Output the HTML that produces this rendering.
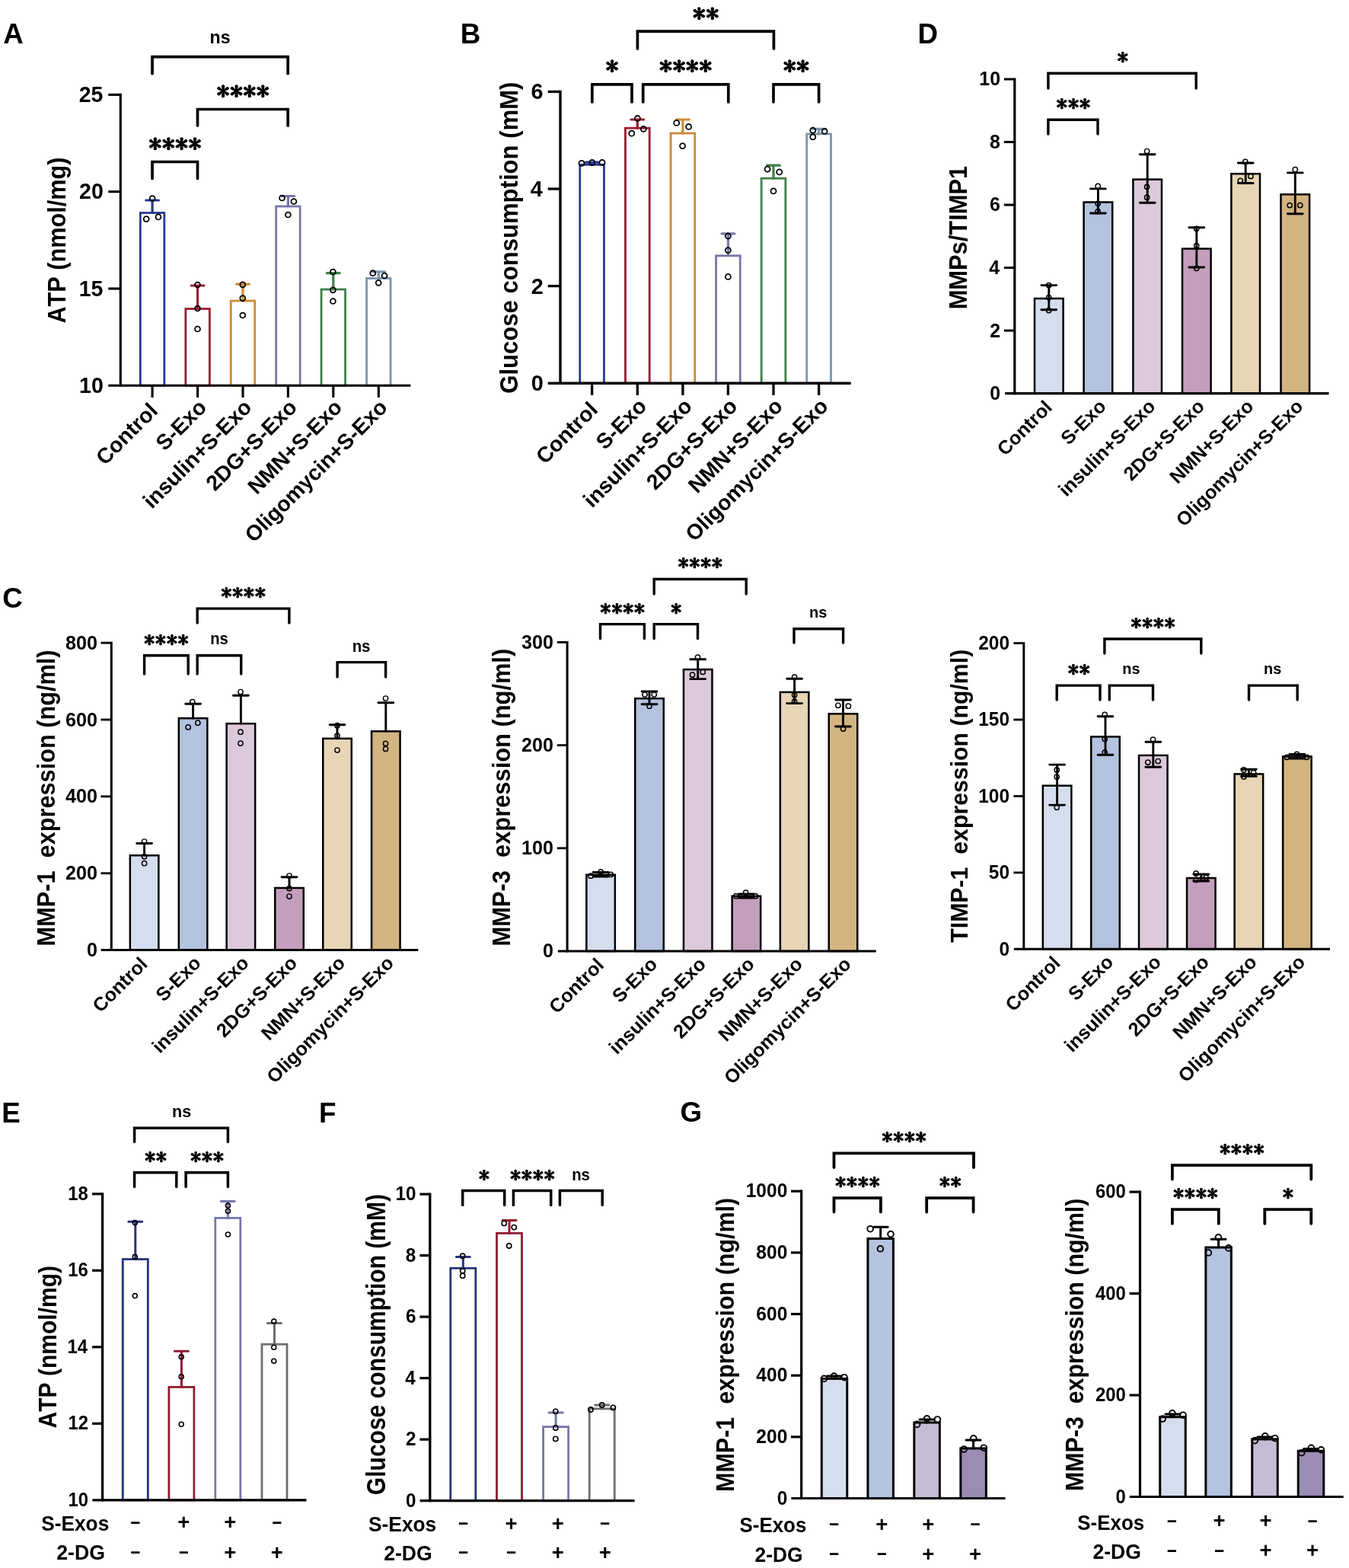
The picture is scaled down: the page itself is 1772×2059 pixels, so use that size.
<!DOCTYPE html>
<html><head><meta charset="utf-8"><title>Figure</title>
<style>
html,body{margin:0;padding:0;background:#fff;}
svg{display:block;}
svg text{font-family:"Liberation Sans",Arial,sans-serif;font-weight:bold;fill:#000;font-kerning:none;}
svg text.ast{font-family:"IPAGothic","Liberation Sans",sans-serif;font-weight:normal;stroke:#000;stroke-linejoin:round;}
.br{fill:none;stroke:#000;stroke-linecap:round;stroke-linejoin:miter;}
</style></head>
<body>
<svg xmlns="http://www.w3.org/2000/svg" width="1772" height="2059" viewBox="0 0 1772 2059">
<rect width="1772" height="2059" fill="#fff"/>
<g>
<rect x="184.35" y="279.5" width="31.5" height="226.8" fill="#fff" stroke="#283a8f" stroke-width="2.8"/>
<rect x="243.85" y="405.5" width="31.5" height="100.8" fill="#fff" stroke="#9b1b32" stroke-width="2.8"/>
<rect x="303.25" y="395" width="31.5" height="111.3" fill="#fff" stroke="#cc8a33" stroke-width="2.8"/>
<rect x="362.65" y="271" width="31.5" height="235.3" fill="#fff" stroke="#7676aa" stroke-width="2.8"/>
<rect x="422.05" y="380" width="31.5" height="126.3" fill="#fff" stroke="#3f7f48" stroke-width="2.8"/>
<rect x="481.55" y="365.5" width="31.5" height="140.8" fill="#fff" stroke="#7a95ad" stroke-width="2.8"/>
<path d="M200.1 279.5V263M191.7 263H208.5" fill="none" stroke="#283a8f" stroke-width="3.2" stroke-linecap="round"/>
<path d="M259.6 405.5V375M251.2 375H268" fill="none" stroke="#9b1b32" stroke-width="3.2" stroke-linecap="round"/>
<path d="M319 395V373.1M310.6 373.1H327.4" fill="none" stroke="#cc8a33" stroke-width="3.2" stroke-linecap="round"/>
<path d="M378.4 271V257.5M370 257.5H386.8" fill="none" stroke="#7676aa" stroke-width="3.2" stroke-linecap="round"/>
<path d="M437.8 380V358.7M429.4 358.7H446.2" fill="none" stroke="#3f7f48" stroke-width="3.2" stroke-linecap="round"/>
<path d="M497.3 365.5V356.9M488.9 356.9H505.7" fill="none" stroke="#7a95ad" stroke-width="3.2" stroke-linecap="round"/>
<circle cx="200.1" cy="260.5" r="3.45" fill="none" stroke="#000" stroke-width="1.8"/>
<circle cx="192.2" cy="287.6" r="3.45" fill="none" stroke="#000" stroke-width="1.8"/>
<circle cx="208" cy="284.9" r="3.45" fill="none" stroke="#000" stroke-width="1.8"/>
<circle cx="259.5" cy="374" r="3.45" fill="none" stroke="#000" stroke-width="1.8"/>
<circle cx="259.5" cy="405" r="3.45" fill="none" stroke="#000" stroke-width="1.8"/>
<circle cx="259.5" cy="432" r="3.45" fill="none" stroke="#000" stroke-width="1.8"/>
<circle cx="318.8" cy="373.8" r="3.45" fill="none" stroke="#000" stroke-width="1.8"/>
<circle cx="318.8" cy="391.6" r="3.45" fill="none" stroke="#000" stroke-width="1.8"/>
<circle cx="318.8" cy="414" r="3.45" fill="none" stroke="#000" stroke-width="1.8"/>
<circle cx="370.5" cy="260" r="3.45" fill="none" stroke="#000" stroke-width="1.8"/>
<circle cx="385.9" cy="264.5" r="3.45" fill="none" stroke="#000" stroke-width="1.8"/>
<circle cx="378.4" cy="282" r="3.45" fill="none" stroke="#000" stroke-width="1.8"/>
<circle cx="437.4" cy="357" r="3.45" fill="none" stroke="#000" stroke-width="1.8"/>
<circle cx="437.4" cy="380.8" r="3.45" fill="none" stroke="#000" stroke-width="1.8"/>
<circle cx="437.4" cy="395.5" r="3.45" fill="none" stroke="#000" stroke-width="1.8"/>
<circle cx="489.7" cy="358.7" r="3.45" fill="none" stroke="#000" stroke-width="1.8"/>
<circle cx="505" cy="362" r="3.45" fill="none" stroke="#000" stroke-width="1.8"/>
<circle cx="497.2" cy="371.3" r="3.45" fill="none" stroke="#000" stroke-width="1.8"/>
<line x1="158.3" y1="122.85" x2="158.3" y2="507.85" stroke="#000" stroke-width="3.1"/>
<line x1="142.3" y1="506.3" x2="539.4" y2="506.3" stroke="#000" stroke-width="3.1"/>
<line x1="142.3" y1="379" x2="158.3" y2="379" stroke="#000" stroke-width="3.1"/>
<line x1="142.3" y1="251.7" x2="158.3" y2="251.7" stroke="#000" stroke-width="3.1"/>
<line x1="142.3" y1="124.4" x2="158.3" y2="124.4" stroke="#000" stroke-width="3.1"/>
<line x1="200.1" y1="506.3" x2="200.1" y2="522" stroke="#000" stroke-width="3.1"/>
<line x1="259.6" y1="506.3" x2="259.6" y2="522" stroke="#000" stroke-width="3.1"/>
<line x1="319" y1="506.3" x2="319" y2="522" stroke="#000" stroke-width="3.1"/>
<line x1="378.4" y1="506.3" x2="378.4" y2="522" stroke="#000" stroke-width="3.1"/>
<line x1="437.8" y1="506.3" x2="437.8" y2="522" stroke="#000" stroke-width="3.1"/>
<line x1="497.3" y1="506.3" x2="497.3" y2="522" stroke="#000" stroke-width="3.1"/>
<text font-size="29.9" transform="translate(104.11 515.99) scale(0.955 1)">10</text>
<text font-size="29.9" transform="translate(103.73 388.54) scale(0.955 1)">15</text>
<text font-size="29.9" transform="translate(104.11 261.39) scale(0.955 1)">20</text>
<text font-size="29.9" transform="translate(103.73 134.09) scale(0.955 1)">25</text>
<path d="M200.05 96.7V74.7H378.2V96.7" class="br" stroke-width="3.7"/>
<path d="M259.5 165V143.5H378.2V165" class="br" stroke-width="3.7"/>
<path d="M200.05 234.5V212.5H259.5V234.5" class="br" stroke-width="3.7"/>
<text font-size="24.41" transform="translate(275.57 56.66) scale(0.950 1)">ns</text>
<text class="ast" font-size="31.45" transform="translate(284.54 130.95) scale(1.091 1)" stroke-width="1.27" letter-spacing="0.23">****</text>
<text class="ast" font-size="31.45" transform="translate(195.24 199.95) scale(1.091 1)" stroke-width="1.27" letter-spacing="0.23">****</text>
<text font-size="33.28" transform="translate(85.6 424.56) rotate(-90) scale(0.922 1)">ATP (nmol/mg)</text>
<text font-size="28.3" text-anchor="end" transform="translate(208.8 541.1) rotate(-45)">Control</text>
<text font-size="28.3" text-anchor="end" transform="translate(272.9 536.5) rotate(-45)">S-Exo</text>
<text font-size="28.3" text-anchor="end" transform="translate(332.3 536.5) rotate(-45)">insulin+S-Exo</text>
<text font-size="28.3" text-anchor="end" transform="translate(391.7 536.5) rotate(-45)">2DG+S-Exo</text>
<text font-size="28.3" text-anchor="end" transform="translate(451.1 536.5) rotate(-45)">NMN+S-Exo</text>
<text font-size="28.3" text-anchor="end" transform="translate(510.6 536.5) rotate(-45)">Oligomycin+S-Exo</text>
</g>
<g>
<rect x="761.75" y="216.3" width="31.7" height="286.9" fill="#fff" stroke="#283a8f" stroke-width="2.8"/>
<rect x="821.45" y="168.2" width="31.7" height="335" fill="#fff" stroke="#9b1b32" stroke-width="2.8"/>
<rect x="881.05" y="175" width="31.7" height="328.2" fill="#fff" stroke="#cc8a33" stroke-width="2.8"/>
<rect x="940.55" y="335.8" width="31.7" height="167.4" fill="#fff" stroke="#7676aa" stroke-width="2.8"/>
<rect x="1000.15" y="234.2" width="31.7" height="269" fill="#fff" stroke="#3f7f48" stroke-width="2.8"/>
<rect x="1059.75" y="175.9" width="31.7" height="327.3" fill="#fff" stroke="#7a95ad" stroke-width="2.8"/>
<path d="M777.6 216.3V213.2M769.2 213.2H786" fill="none" stroke="#283a8f" stroke-width="3.2" stroke-linecap="round"/>
<path d="M837.3 168.2V157M828.9 157H845.7" fill="none" stroke="#9b1b32" stroke-width="3.2" stroke-linecap="round"/>
<path d="M896.9 175V157M888.5 157H905.3" fill="none" stroke="#cc8a33" stroke-width="3.2" stroke-linecap="round"/>
<path d="M956.4 335.8V306.9M948 306.9H964.8" fill="none" stroke="#7676aa" stroke-width="3.2" stroke-linecap="round"/>
<path d="M1016 234.2V217.1M1007.6 217.1H1024.4" fill="none" stroke="#3f7f48" stroke-width="3.2" stroke-linecap="round"/>
<path d="M1075.6 175.9V169.3M1067.2 169.3H1084" fill="none" stroke="#7a95ad" stroke-width="3.2" stroke-linecap="round"/>
<circle cx="764" cy="214.3" r="3.5" fill="none" stroke="#000" stroke-width="1.8"/>
<circle cx="777.8" cy="213.4" r="3.5" fill="none" stroke="#000" stroke-width="1.8"/>
<circle cx="791" cy="213.4" r="3.5" fill="none" stroke="#000" stroke-width="1.8"/>
<circle cx="837.4" cy="155.5" r="3.5" fill="none" stroke="#000" stroke-width="1.8"/>
<circle cx="829.7" cy="175.2" r="3.5" fill="none" stroke="#000" stroke-width="1.8"/>
<circle cx="845.3" cy="169.3" r="3.5" fill="none" stroke="#000" stroke-width="1.8"/>
<circle cx="888.7" cy="161.4" r="3.5" fill="none" stroke="#000" stroke-width="1.8"/>
<circle cx="904.6" cy="166.4" r="3.5" fill="none" stroke="#000" stroke-width="1.8"/>
<circle cx="896.6" cy="191.6" r="3.5" fill="none" stroke="#000" stroke-width="1.8"/>
<circle cx="956.4" cy="310" r="3.5" fill="none" stroke="#000" stroke-width="1.8"/>
<circle cx="956.4" cy="328.7" r="3.5" fill="none" stroke="#000" stroke-width="1.8"/>
<circle cx="956.4" cy="363.4" r="3.5" fill="none" stroke="#000" stroke-width="1.8"/>
<circle cx="1008.1" cy="222.1" r="3.5" fill="none" stroke="#000" stroke-width="1.8"/>
<circle cx="1023.7" cy="225.9" r="3.5" fill="none" stroke="#000" stroke-width="1.8"/>
<circle cx="1016" cy="250.9" r="3.5" fill="none" stroke="#000" stroke-width="1.8"/>
<circle cx="1067.8" cy="171.1" r="3.5" fill="none" stroke="#000" stroke-width="1.8"/>
<circle cx="1083.1" cy="172.4" r="3.5" fill="none" stroke="#000" stroke-width="1.8"/>
<circle cx="1067.8" cy="179.8" r="3.5" fill="none" stroke="#000" stroke-width="1.8"/>
<line x1="736" y1="118.75" x2="736" y2="504.9" stroke="#000" stroke-width="3.4"/>
<line x1="719.7" y1="503.2" x2="1117.7" y2="503.2" stroke="#000" stroke-width="3.4"/>
<line x1="719.7" y1="375.6" x2="736" y2="375.6" stroke="#000" stroke-width="3.3"/>
<line x1="719.7" y1="248" x2="736" y2="248" stroke="#000" stroke-width="3.3"/>
<line x1="719.7" y1="120.4" x2="736" y2="120.4" stroke="#000" stroke-width="3.3"/>
<line x1="777.6" y1="503.2" x2="777.6" y2="519" stroke="#000" stroke-width="3.3"/>
<line x1="837.3" y1="503.2" x2="837.3" y2="519" stroke="#000" stroke-width="3.3"/>
<line x1="896.9" y1="503.2" x2="896.9" y2="519" stroke="#000" stroke-width="3.3"/>
<line x1="956.4" y1="503.2" x2="956.4" y2="519" stroke="#000" stroke-width="3.3"/>
<line x1="1016" y1="503.2" x2="1016" y2="519" stroke="#000" stroke-width="3.3"/>
<line x1="1075.6" y1="503.2" x2="1075.6" y2="519" stroke="#000" stroke-width="3.3"/>
<text font-size="30.2" transform="translate(697.74 513) scale(0.955 1)">0</text>
<text font-size="30.2" transform="translate(697.71 385.54) scale(0.955 1)">2</text>
<text font-size="30.2" transform="translate(696.71 257.79) scale(0.955 1)">4</text>
<text font-size="30.2" transform="translate(697.6 130.2) scale(0.955 1)">6</text>
<path d="M837.4 64V41.1H1016.4V64" class="br" stroke-width="3.7"/>
<path d="M777.8 134V110.9H830V134" class="br" stroke-width="3.7"/>
<path d="M844.7 134V110.9H956.8V134" class="br" stroke-width="3.7"/>
<path d="M1016 134V110.9H1075.6V134" class="br" stroke-width="3.7"/>
<text class="ast" font-size="31.45" transform="translate(909.74 28.55) scale(1.091 1)" stroke-width="1.27" letter-spacing="0.23">**</text>
<text class="ast" font-size="31.45" transform="translate(795.44 98.35) scale(1.091 1)" stroke-width="1.27">*</text>
<text class="ast" font-size="31.45" transform="translate(866.04 98.35) scale(1.091 1)" stroke-width="1.27" letter-spacing="0.23">****</text>
<text class="ast" font-size="31.45" transform="translate(1028.64 98.35) scale(1.091 1)" stroke-width="1.27" letter-spacing="0.23">**</text>
<text font-size="33.43" transform="translate(679.7 516.77) rotate(-90) scale(0.930 1)">Glucose consumption (mM)</text>
<text font-size="28.3" text-anchor="end" transform="translate(786.8 539.7) rotate(-45)">Control</text>
<text font-size="28.3" text-anchor="end" transform="translate(851.1 535.1) rotate(-45)">S-Exo</text>
<text font-size="28.3" text-anchor="end" transform="translate(910.7 535.1) rotate(-45)">insulin+S-Exo</text>
<text font-size="28.3" text-anchor="end" transform="translate(970.2 535.1) rotate(-45)">2DG+S-Exo</text>
<text font-size="28.3" text-anchor="end" transform="translate(1029.8 535.1) rotate(-45)">NMN+S-Exo</text>
<text font-size="28.3" text-anchor="end" transform="translate(1089.4 535.1) rotate(-45)">Oligomycin+S-Exo</text>
</g>
<g>
<rect x="1359" y="392" width="37.6" height="124.6" fill="#d4deee" stroke="#000" stroke-width="2.5"/>
<rect x="1423.6" y="265.5" width="37.6" height="251.1" fill="#b3c2de" stroke="#000" stroke-width="2.5"/>
<rect x="1488.4" y="235.6" width="37.6" height="281" fill="#dcc9db" stroke="#000" stroke-width="2.5"/>
<rect x="1553" y="326.6" width="37.6" height="190" fill="#c49ebd" stroke="#000" stroke-width="2.5"/>
<rect x="1617.4" y="228.2" width="37.6" height="288.4" fill="#e7d5b5" stroke="#000" stroke-width="2.5"/>
<rect x="1682.5" y="255.3" width="37.6" height="261.3" fill="#d3b481" stroke="#000" stroke-width="2.5"/>
<path d="M1377.8 392V374.6M1367.9 374.6H1387.7" fill="none" stroke="#000" stroke-width="2.9" stroke-linecap="round"/>
<path d="M1377.8 392V406.7M1367.9 406.7H1387.7" fill="none" stroke="#000" stroke-width="2.9" stroke-linecap="round"/>
<path d="M1442.4 265.5V247.9M1432.5 247.9H1452.3" fill="none" stroke="#000" stroke-width="2.9" stroke-linecap="round"/>
<path d="M1442.4 265.5V280M1432.5 280H1452.3" fill="none" stroke="#000" stroke-width="2.9" stroke-linecap="round"/>
<path d="M1507.2 235.6V202.7M1497.3 202.7H1517.1" fill="none" stroke="#000" stroke-width="2.9" stroke-linecap="round"/>
<path d="M1507.2 235.6V266.3M1497.3 266.3H1517.1" fill="none" stroke="#000" stroke-width="2.9" stroke-linecap="round"/>
<path d="M1571.8 326.6V298.7M1561.9 298.7H1581.7" fill="none" stroke="#000" stroke-width="2.9" stroke-linecap="round"/>
<path d="M1571.8 326.6V351M1561.9 351H1581.7" fill="none" stroke="#000" stroke-width="2.9" stroke-linecap="round"/>
<path d="M1636.2 228.2V214M1626.3 214H1646.1" fill="none" stroke="#000" stroke-width="2.9" stroke-linecap="round"/>
<path d="M1636.2 228.2V240.5M1626.3 240.5H1646.1" fill="none" stroke="#000" stroke-width="2.9" stroke-linecap="round"/>
<path d="M1701.3 255.3V226.9M1691.4 226.9H1711.2" fill="none" stroke="#000" stroke-width="2.9" stroke-linecap="round"/>
<path d="M1701.3 255.3V280.7M1691.4 280.7H1711.2" fill="none" stroke="#000" stroke-width="2.9" stroke-linecap="round"/>
<circle cx="1377.7" cy="374.6" r="3.15" fill="none" stroke="#000" stroke-width="1.45"/>
<circle cx="1377.7" cy="390.5" r="3.15" fill="none" stroke="#000" stroke-width="1.45"/>
<circle cx="1377.7" cy="407.6" r="3.15" fill="none" stroke="#000" stroke-width="1.45"/>
<circle cx="1442.2" cy="244.4" r="3.15" fill="none" stroke="#000" stroke-width="1.45"/>
<circle cx="1442.2" cy="267.3" r="3.15" fill="none" stroke="#000" stroke-width="1.45"/>
<circle cx="1442.2" cy="277.6" r="3.15" fill="none" stroke="#000" stroke-width="1.45"/>
<circle cx="1506.6" cy="198.5" r="3.15" fill="none" stroke="#000" stroke-width="1.45"/>
<circle cx="1506.6" cy="245.3" r="3.15" fill="none" stroke="#000" stroke-width="1.45"/>
<circle cx="1506.6" cy="259.2" r="3.15" fill="none" stroke="#000" stroke-width="1.45"/>
<circle cx="1571.7" cy="300.3" r="3.15" fill="none" stroke="#000" stroke-width="1.45"/>
<circle cx="1571.7" cy="322.6" r="3.15" fill="none" stroke="#000" stroke-width="1.45"/>
<circle cx="1571.7" cy="352.3" r="3.15" fill="none" stroke="#000" stroke-width="1.45"/>
<circle cx="1635.8" cy="212.4" r="3.15" fill="none" stroke="#000" stroke-width="1.45"/>
<circle cx="1629.3" cy="237.3" r="3.15" fill="none" stroke="#000" stroke-width="1.45"/>
<circle cx="1642.9" cy="231.4" r="3.15" fill="none" stroke="#000" stroke-width="1.45"/>
<circle cx="1701.3" cy="222.7" r="3.15" fill="none" stroke="#000" stroke-width="1.45"/>
<circle cx="1694.2" cy="269.6" r="3.15" fill="none" stroke="#000" stroke-width="1.45"/>
<circle cx="1707.8" cy="269.6" r="3.15" fill="none" stroke="#000" stroke-width="1.45"/>
<line x1="1332.8" y1="102.5" x2="1332.8" y2="518.2" stroke="#000" stroke-width="3.2"/>
<line x1="1320.2" y1="516.6" x2="1745.5" y2="516.6" stroke="#000" stroke-width="3.2"/>
<line x1="1318.9" y1="434.08" x2="1332.8" y2="434.08" stroke="#000" stroke-width="3"/>
<line x1="1318.9" y1="351.56" x2="1332.8" y2="351.56" stroke="#000" stroke-width="3"/>
<line x1="1318.9" y1="269.04" x2="1332.8" y2="269.04" stroke="#000" stroke-width="3"/>
<line x1="1318.9" y1="186.52" x2="1332.8" y2="186.52" stroke="#000" stroke-width="3"/>
<line x1="1318.9" y1="104" x2="1332.8" y2="104" stroke="#000" stroke-width="3"/>
<text font-size="26.1" transform="translate(1300.16 524.98) scale(0.955 1)">0</text>
<text font-size="26.1" transform="translate(1300.14 442.59) scale(0.955 1)">2</text>
<text font-size="26.1" transform="translate(1299.27 359.94) scale(0.955 1)">4</text>
<text font-size="26.1" transform="translate(1300.04 277.42) scale(0.955 1)">6</text>
<text font-size="26.1" transform="translate(1299.9 194.9) scale(0.955 1)">8</text>
<text font-size="26.1" transform="translate(1286.3 112.38) scale(0.955 1)">10</text>
<path d="M1376.9 116V96.2H1571.2V116" class="br" stroke-width="3.4"/>
<path d="M1376.9 176V157.2H1442V176" class="br" stroke-width="3.4"/>
<text class="ast" font-size="26.82" transform="translate(1467.48 84.64) scale(1.094 1)" stroke-width="1.09">*</text>
<text class="ast" font-size="26.82" transform="translate(1387.58 145.64) scale(1.094 1)" stroke-width="1.09" letter-spacing="0.39">***</text>
<text font-size="33.58" transform="translate(1269.6 406.36) rotate(-90) scale(0.919 1)">MMPs/TIMP1</text>
<text font-size="25.2" text-anchor="end" transform="translate(1383.51 536.51) rotate(-45)">Control</text>
<text font-size="25.2" text-anchor="end" transform="translate(1454.31 535.11) rotate(-45)">S-Exo</text>
<text font-size="25.2" text-anchor="end" transform="translate(1519.11 535.11) rotate(-45)">insulin+S-Exo</text>
<text font-size="25.2" text-anchor="end" transform="translate(1583.71 535.11) rotate(-45)">2DG+S-Exo</text>
<text font-size="25.2" text-anchor="end" transform="translate(1648.11 535.11) rotate(-45)">NMN+S-Exo</text>
<text font-size="25.2" text-anchor="end" transform="translate(1713.21 535.11) rotate(-45)">Oligomycin+S-Exo</text>
</g>
<g>
<rect x="170.85" y="1123.3" width="37.5" height="124.3" fill="#d4deee" stroke="#000" stroke-width="2.5"/>
<rect x="234.85" y="943.2" width="37.5" height="304.4" fill="#b3c2de" stroke="#000" stroke-width="2.5"/>
<rect x="297.65" y="950.2" width="37.5" height="297.4" fill="#dcc9db" stroke="#000" stroke-width="2.5"/>
<rect x="361.25" y="1166" width="37.5" height="81.6" fill="#c49ebd" stroke="#000" stroke-width="2.5"/>
<rect x="424.25" y="969.8" width="37.5" height="277.8" fill="#e7d5b5" stroke="#000" stroke-width="2.5"/>
<rect x="488.05" y="960.3" width="37.5" height="287.3" fill="#d3b481" stroke="#000" stroke-width="2.5"/>
<path d="M189.6 1123.3V1107.5M179.7 1107.5H199.5" fill="none" stroke="#000" stroke-width="2.9" stroke-linecap="round"/>
<path d="M253.6 943.2V924.3M243.7 924.3H263.5" fill="none" stroke="#000" stroke-width="2.9" stroke-linecap="round"/>
<path d="M316.4 950.2V913.2M306.5 913.2H326.3" fill="none" stroke="#000" stroke-width="2.9" stroke-linecap="round"/>
<path d="M380 1166V1151.7M370.1 1151.7H389.9" fill="none" stroke="#000" stroke-width="2.9" stroke-linecap="round"/>
<path d="M443 969.8V951.8M433.1 951.8H452.9" fill="none" stroke="#000" stroke-width="2.9" stroke-linecap="round"/>
<path d="M506.8 960.3V922.7M496.9 922.7H516.7" fill="none" stroke="#000" stroke-width="2.9" stroke-linecap="round"/>
<circle cx="189.6" cy="1105" r="3.15" fill="none" stroke="#000" stroke-width="1.45"/>
<circle cx="189.6" cy="1124.8" r="3.15" fill="none" stroke="#000" stroke-width="1.45"/>
<circle cx="189.6" cy="1133.7" r="3.15" fill="none" stroke="#000" stroke-width="1.45"/>
<circle cx="252.8" cy="921.7" r="3.15" fill="none" stroke="#000" stroke-width="1.45"/>
<circle cx="247.2" cy="954.9" r="3.15" fill="none" stroke="#000" stroke-width="1.45"/>
<circle cx="259.8" cy="949.2" r="3.15" fill="none" stroke="#000" stroke-width="1.45"/>
<circle cx="316" cy="908.5" r="3.15" fill="none" stroke="#000" stroke-width="1.45"/>
<circle cx="316" cy="961.2" r="3.15" fill="none" stroke="#000" stroke-width="1.45"/>
<circle cx="316" cy="976.1" r="3.15" fill="none" stroke="#000" stroke-width="1.45"/>
<circle cx="380" cy="1150" r="3.15" fill="none" stroke="#000" stroke-width="1.45"/>
<circle cx="380" cy="1166.6" r="3.15" fill="none" stroke="#000" stroke-width="1.45"/>
<circle cx="380" cy="1177" r="3.15" fill="none" stroke="#000" stroke-width="1.45"/>
<circle cx="443" cy="952.7" r="3.15" fill="none" stroke="#000" stroke-width="1.45"/>
<circle cx="443" cy="966" r="3.15" fill="none" stroke="#000" stroke-width="1.45"/>
<circle cx="443" cy="985" r="3.15" fill="none" stroke="#000" stroke-width="1.45"/>
<circle cx="506.6" cy="917" r="3.15" fill="none" stroke="#000" stroke-width="1.45"/>
<circle cx="506.6" cy="976.4" r="3.15" fill="none" stroke="#000" stroke-width="1.45"/>
<circle cx="506.6" cy="983.4" r="3.15" fill="none" stroke="#000" stroke-width="1.45"/>
<line x1="146.3" y1="842.76" x2="146.3" y2="1249.1" stroke="#000" stroke-width="3"/>
<line x1="132.7" y1="1247.6" x2="549.3" y2="1247.6" stroke="#000" stroke-width="3"/>
<line x1="132.5" y1="1146.74" x2="146.3" y2="1146.74" stroke="#000" stroke-width="2.8"/>
<line x1="132.5" y1="1045.88" x2="146.3" y2="1045.88" stroke="#000" stroke-width="2.8"/>
<line x1="132.5" y1="945.02" x2="146.3" y2="945.02" stroke="#000" stroke-width="2.8"/>
<line x1="132.5" y1="844.16" x2="146.3" y2="844.16" stroke="#000" stroke-width="2.8"/>
<text font-size="26.4" transform="translate(114.01 1256.09) scale(0.955 1)">0</text>
<text font-size="26.4" transform="translate(85.97 1155.23) scale(0.955 1)">200</text>
<text font-size="26.4" transform="translate(85.97 1054.37) scale(0.955 1)">400</text>
<text font-size="26.4" transform="translate(85.97 953.51) scale(0.955 1)">600</text>
<text font-size="26.4" transform="translate(85.97 852.65) scale(0.955 1)">800</text>
<path d="M259.2 818V799.1H379.9V818" class="br" stroke-width="3.4"/>
<path d="M189.6 885V860.7H247.2V885" class="br" stroke-width="3.4"/>
<path d="M259.2 885V860.7H316.7V885" class="br" stroke-width="3.4"/>
<path d="M443.1 889V869.6H506.6V889" class="br" stroke-width="3.4"/>
<text class="ast" font-size="26.46" transform="translate(290.24 788) scale(1.085 1)" stroke-width="1.07" letter-spacing="0.42">****</text>
<text class="ast" font-size="26.46" transform="translate(189.04 849.6) scale(1.085 1)" stroke-width="1.07" letter-spacing="0.42">****</text>
<text font-size="21.31" transform="translate(276.17 845.69) scale(0.950 1)">ns</text>
<text font-size="21.49" transform="translate(462.65 856.09) scale(0.950 1)">ns</text>
<text font-size="32.41" transform="translate(71.9 1242.45) rotate(-90) scale(0.948 1)" xml:space="preserve">MMP-1  expression (ng/ml)</text>
<text font-size="25.2" text-anchor="end" transform="translate(195.31 1267.51) rotate(-45)">Control</text>
<text font-size="25.2" text-anchor="end" transform="translate(265.51 1266.11) rotate(-45)">S-Exo</text>
<text font-size="25.2" text-anchor="end" transform="translate(328.31 1266.11) rotate(-45)">insulin+S-Exo</text>
<text font-size="25.2" text-anchor="end" transform="translate(391.91 1266.11) rotate(-45)">2DG+S-Exo</text>
<text font-size="25.2" text-anchor="end" transform="translate(454.91 1266.11) rotate(-45)">NMN+S-Exo</text>
<text font-size="25.2" text-anchor="end" transform="translate(518.71 1266.11) rotate(-45)">Oligomycin+S-Exo</text>
</g>
<g>
<rect x="770.35" y="1148.7" width="37.5" height="100.3" fill="#d4deee" stroke="#000" stroke-width="2.5"/>
<rect x="834.25" y="917.2" width="37.5" height="331.8" fill="#b3c2de" stroke="#000" stroke-width="2.5"/>
<rect x="897.95" y="879.1" width="37.5" height="369.9" fill="#dcc9db" stroke="#000" stroke-width="2.5"/>
<rect x="961.65" y="1176.7" width="37.5" height="72.3" fill="#c49ebd" stroke="#000" stroke-width="2.5"/>
<rect x="1024.85" y="908.9" width="37.5" height="340.1" fill="#e7d5b5" stroke="#000" stroke-width="2.5"/>
<rect x="1088.75" y="937.3" width="37.5" height="311.7" fill="#d3b481" stroke="#000" stroke-width="2.5"/>
<path d="M789.1 1148.7V1145.4M779.2 1145.4H799" fill="none" stroke="#000" stroke-width="2.9" stroke-linecap="round"/>
<path d="M789.1 1148.7V1151M779.2 1151H799" fill="none" stroke="#000" stroke-width="2.9" stroke-linecap="round"/>
<path d="M853 917.2V908M843.1 908H862.9" fill="none" stroke="#000" stroke-width="2.9" stroke-linecap="round"/>
<path d="M853 917.2V924.8M843.1 924.8H862.9" fill="none" stroke="#000" stroke-width="2.9" stroke-linecap="round"/>
<path d="M916.7 879.1V865.7M906.8 865.7H926.6" fill="none" stroke="#000" stroke-width="2.9" stroke-linecap="round"/>
<path d="M916.7 879.1V891.6M906.8 891.6H926.6" fill="none" stroke="#000" stroke-width="2.9" stroke-linecap="round"/>
<path d="M980.4 1176.7V1174M970.5 1174H990.3" fill="none" stroke="#000" stroke-width="2.9" stroke-linecap="round"/>
<path d="M980.4 1176.7V1179M970.5 1179H990.3" fill="none" stroke="#000" stroke-width="2.9" stroke-linecap="round"/>
<path d="M1043.6 908.9V891.3M1033.7 891.3H1053.5" fill="none" stroke="#000" stroke-width="2.9" stroke-linecap="round"/>
<path d="M1043.6 908.9V923.6M1033.7 923.6H1053.5" fill="none" stroke="#000" stroke-width="2.9" stroke-linecap="round"/>
<path d="M1107.5 937.3V919M1097.6 919H1117.4" fill="none" stroke="#000" stroke-width="2.9" stroke-linecap="round"/>
<path d="M1107.5 937.3V954M1097.6 954H1117.4" fill="none" stroke="#000" stroke-width="2.9" stroke-linecap="round"/>
<circle cx="776" cy="1150.2" r="3.15" fill="none" stroke="#000" stroke-width="1.45"/>
<circle cx="789.1" cy="1144.8" r="3.15" fill="none" stroke="#000" stroke-width="1.45"/>
<circle cx="802.2" cy="1148.4" r="3.15" fill="none" stroke="#000" stroke-width="1.45"/>
<circle cx="847" cy="912" r="3.15" fill="none" stroke="#000" stroke-width="1.45"/>
<circle cx="859.2" cy="912" r="3.15" fill="none" stroke="#000" stroke-width="1.45"/>
<circle cx="853" cy="927.2" r="3.15" fill="none" stroke="#000" stroke-width="1.45"/>
<circle cx="916.5" cy="863.2" r="3.15" fill="none" stroke="#000" stroke-width="1.45"/>
<circle cx="909.5" cy="886.1" r="3.15" fill="none" stroke="#000" stroke-width="1.45"/>
<circle cx="923.2" cy="882.4" r="3.15" fill="none" stroke="#000" stroke-width="1.45"/>
<circle cx="966.8" cy="1176.7" r="3.15" fill="none" stroke="#000" stroke-width="1.45"/>
<circle cx="979.6" cy="1172.2" r="3.15" fill="none" stroke="#000" stroke-width="1.45"/>
<circle cx="992.4" cy="1176.7" r="3.15" fill="none" stroke="#000" stroke-width="1.45"/>
<circle cx="1043.6" cy="889.1" r="3.15" fill="none" stroke="#000" stroke-width="1.45"/>
<circle cx="1043.6" cy="912.6" r="3.15" fill="none" stroke="#000" stroke-width="1.45"/>
<circle cx="1043.6" cy="921.1" r="3.15" fill="none" stroke="#000" stroke-width="1.45"/>
<circle cx="1100.9" cy="926.3" r="3.15" fill="none" stroke="#000" stroke-width="1.45"/>
<circle cx="1114.3" cy="927.2" r="3.15" fill="none" stroke="#000" stroke-width="1.45"/>
<circle cx="1107.6" cy="957.1" r="3.15" fill="none" stroke="#000" stroke-width="1.45"/>
<line x1="745.1" y1="842" x2="745.1" y2="1250.5" stroke="#000" stroke-width="3"/>
<line x1="732.8" y1="1249" x2="1150.8" y2="1249" stroke="#000" stroke-width="3"/>
<line x1="731.8" y1="1113.8" x2="745.1" y2="1113.8" stroke="#000" stroke-width="2.8"/>
<line x1="731.8" y1="978.6" x2="745.1" y2="978.6" stroke="#000" stroke-width="2.8"/>
<line x1="731.8" y1="843.4" x2="745.1" y2="843.4" stroke="#000" stroke-width="2.8"/>
<text font-size="26.3" transform="translate(713.06 1257.45) scale(0.955 1)">0</text>
<text font-size="26.3" transform="translate(685.12 1122.25) scale(0.955 1)">100</text>
<text font-size="26.3" transform="translate(685.12 987.05) scale(0.955 1)">200</text>
<text font-size="26.3" transform="translate(685.12 851.83) scale(0.955 1)">300</text>
<path d="M859.2 780V760.5H980.2V780" class="br" stroke-width="3.4"/>
<path d="M788.5 838.5V819.6H846.4V838.5" class="br" stroke-width="3.4"/>
<path d="M859.2 838.5V819.6H916.5V838.5" class="br" stroke-width="3.4"/>
<path d="M1043 844V825.7H1107.6V844" class="br" stroke-width="3.4"/>
<text class="ast" font-size="26.46" transform="translate(890.44 749.4) scale(1.085 1)" stroke-width="1.07" letter-spacing="0.42">****</text>
<text class="ast" font-size="26.46" transform="translate(788.34 808.5) scale(1.085 1)" stroke-width="1.07" letter-spacing="0.42">****</text>
<text class="ast" font-size="26.46" transform="translate(881.04 808.5) scale(1.085 1)" stroke-width="1.07">*</text>
<text font-size="21.13" transform="translate(1062.98 811.19) scale(0.950 1)">ns</text>
<text font-size="32.41" transform="translate(669.9 1242.46) rotate(-90) scale(0.952 1)" xml:space="preserve">MMP-3  expression (ng/ml)</text>
<text font-size="25.2" text-anchor="end" transform="translate(794.81 1268.91) rotate(-45)">Control</text>
<text font-size="25.2" text-anchor="end" transform="translate(864.91 1267.51) rotate(-45)">S-Exo</text>
<text font-size="25.2" text-anchor="end" transform="translate(928.61 1267.51) rotate(-45)">insulin+S-Exo</text>
<text font-size="25.2" text-anchor="end" transform="translate(992.31 1267.51) rotate(-45)">2DG+S-Exo</text>
<text font-size="25.2" text-anchor="end" transform="translate(1055.51 1267.51) rotate(-45)">NMN+S-Exo</text>
<text font-size="25.2" text-anchor="end" transform="translate(1119.41 1267.51) rotate(-45)">Oligomycin+S-Exo</text>
</g>
<g>
<rect x="1369.85" y="1031.7" width="37.5" height="214.6" fill="#d4deee" stroke="#000" stroke-width="2.5"/>
<rect x="1433.25" y="967.4" width="37.5" height="278.9" fill="#b3c2de" stroke="#000" stroke-width="2.5"/>
<rect x="1496.05" y="991.9" width="37.5" height="254.4" fill="#dcc9db" stroke="#000" stroke-width="2.5"/>
<rect x="1559.05" y="1153" width="37.5" height="93.3" fill="#c49ebd" stroke="#000" stroke-width="2.5"/>
<rect x="1621.65" y="1016.4" width="37.5" height="229.9" fill="#e7d5b5" stroke="#000" stroke-width="2.5"/>
<rect x="1685.15" y="993.4" width="37.5" height="252.9" fill="#d3b481" stroke="#000" stroke-width="2.5"/>
<path d="M1388.6 1031.7V1004.1M1378.7 1004.1H1398.5" fill="none" stroke="#000" stroke-width="2.9" stroke-linecap="round"/>
<path d="M1388.6 1031.7V1057.1M1378.7 1057.1H1398.5" fill="none" stroke="#000" stroke-width="2.9" stroke-linecap="round"/>
<path d="M1452 967.4V940.8M1442.1 940.8H1461.9" fill="none" stroke="#000" stroke-width="2.9" stroke-linecap="round"/>
<path d="M1452 967.4V991.3M1442.1 991.3H1461.9" fill="none" stroke="#000" stroke-width="2.9" stroke-linecap="round"/>
<path d="M1514.8 991.9V974.2M1504.9 974.2H1524.7" fill="none" stroke="#000" stroke-width="2.9" stroke-linecap="round"/>
<path d="M1514.8 991.9V1007.2M1504.9 1007.2H1524.7" fill="none" stroke="#000" stroke-width="2.9" stroke-linecap="round"/>
<path d="M1577.8 1153V1148M1567.9 1148H1587.7" fill="none" stroke="#000" stroke-width="2.9" stroke-linecap="round"/>
<path d="M1577.8 1153V1157M1567.9 1157H1587.7" fill="none" stroke="#000" stroke-width="2.9" stroke-linecap="round"/>
<path d="M1640.4 1016.4V1010.2M1630.5 1010.2H1650.3" fill="none" stroke="#000" stroke-width="2.9" stroke-linecap="round"/>
<path d="M1640.4 1016.4V1019.4M1630.5 1019.4H1650.3" fill="none" stroke="#000" stroke-width="2.9" stroke-linecap="round"/>
<path d="M1703.9 993.4V990.5M1694 990.5H1713.8" fill="none" stroke="#000" stroke-width="2.9" stroke-linecap="round"/>
<path d="M1703.9 993.4V996M1694 996H1713.8" fill="none" stroke="#000" stroke-width="2.9" stroke-linecap="round"/>
<circle cx="1388.2" cy="1010.9" r="3.15" fill="none" stroke="#000" stroke-width="1.45"/>
<circle cx="1388.2" cy="1020" r="3.15" fill="none" stroke="#000" stroke-width="1.45"/>
<circle cx="1388.2" cy="1060.3" r="3.15" fill="none" stroke="#000" stroke-width="1.45"/>
<circle cx="1451.2" cy="938.4" r="3.15" fill="none" stroke="#000" stroke-width="1.45"/>
<circle cx="1451.2" cy="970.5" r="3.15" fill="none" stroke="#000" stroke-width="1.45"/>
<circle cx="1451.2" cy="988.2" r="3.15" fill="none" stroke="#000" stroke-width="1.45"/>
<circle cx="1514.5" cy="971.1" r="3.15" fill="none" stroke="#000" stroke-width="1.45"/>
<circle cx="1507.8" cy="1001.1" r="3.15" fill="none" stroke="#000" stroke-width="1.45"/>
<circle cx="1521.2" cy="999.5" r="3.15" fill="none" stroke="#000" stroke-width="1.45"/>
<circle cx="1571" cy="1146.9" r="3.15" fill="none" stroke="#000" stroke-width="1.45"/>
<circle cx="1571" cy="1155.4" r="3.15" fill="none" stroke="#000" stroke-width="1.45"/>
<circle cx="1584.2" cy="1152.4" r="3.15" fill="none" stroke="#000" stroke-width="1.45"/>
<circle cx="1633.8" cy="1010.9" r="3.15" fill="none" stroke="#000" stroke-width="1.45"/>
<circle cx="1633.8" cy="1020" r="3.15" fill="none" stroke="#000" stroke-width="1.45"/>
<circle cx="1646.6" cy="1014.8" r="3.15" fill="none" stroke="#000" stroke-width="1.45"/>
<circle cx="1690.4" cy="994.3" r="3.15" fill="none" stroke="#000" stroke-width="1.45"/>
<circle cx="1703.5" cy="990.4" r="3.15" fill="none" stroke="#000" stroke-width="1.45"/>
<circle cx="1716.4" cy="994.3" r="3.15" fill="none" stroke="#000" stroke-width="1.45"/>
<line x1="1344.8" y1="843.2" x2="1344.8" y2="1247.8" stroke="#000" stroke-width="3"/>
<line x1="1331.9" y1="1246.3" x2="1747" y2="1246.3" stroke="#000" stroke-width="3"/>
<line x1="1331.4" y1="1145.88" x2="1344.8" y2="1145.88" stroke="#000" stroke-width="2.8"/>
<line x1="1331.4" y1="1045.45" x2="1344.8" y2="1045.45" stroke="#000" stroke-width="2.8"/>
<line x1="1331.4" y1="945.02" x2="1344.8" y2="945.02" stroke="#000" stroke-width="2.8"/>
<line x1="1331.4" y1="844.6" x2="1344.8" y2="844.6" stroke="#000" stroke-width="2.8"/>
<text font-size="25.6" transform="translate(1312.41 1254.51) scale(0.955 1)">0</text>
<text font-size="25.6" transform="translate(1298.81 1154.09) scale(0.955 1)">50</text>
<text font-size="25.6" transform="translate(1285.21 1053.66) scale(0.955 1)">100</text>
<text font-size="25.6" transform="translate(1285.21 953.24) scale(0.955 1)">150</text>
<text font-size="25.6" transform="translate(1285.21 852.81) scale(0.955 1)">200</text>
<path d="M1450.9 858V839H1577.8V858" class="br" stroke-width="3.4"/>
<path d="M1388.2 919V900.1H1445V919" class="br" stroke-width="3.4"/>
<path d="M1457.3 919V900.1H1514.5V919" class="br" stroke-width="3.4"/>
<path d="M1640.5 919V900.1H1704.2V919" class="br" stroke-width="3.4"/>
<text class="ast" font-size="26.46" transform="translate(1485.14 827.9) scale(1.085 1)" stroke-width="1.07" letter-spacing="0.42">****</text>
<text class="ast" font-size="26.46" transform="translate(1402.64 889) scale(1.085 1)" stroke-width="1.07" letter-spacing="0.42">**</text>
<text font-size="20.95" transform="translate(1474.29 885.4) scale(0.950 1)">ns</text>
<text font-size="20.95" transform="translate(1659.99 885.4) scale(0.950 1)">ns</text>
<text font-size="31.83" transform="translate(1270.9 1237.74) rotate(-90) scale(0.951 1)" xml:space="preserve">TIMP-1  expression (ng/ml)</text>
<text font-size="25.2" text-anchor="end" transform="translate(1394.31 1266.21) rotate(-45)">Control</text>
<text font-size="25.2" text-anchor="end" transform="translate(1463.91 1264.81) rotate(-45)">S-Exo</text>
<text font-size="25.2" text-anchor="end" transform="translate(1526.71 1264.81) rotate(-45)">insulin+S-Exo</text>
<text font-size="25.2" text-anchor="end" transform="translate(1589.71 1264.81) rotate(-45)">2DG+S-Exo</text>
<text font-size="25.2" text-anchor="end" transform="translate(1652.31 1264.81) rotate(-45)">NMN+S-Exo</text>
<text font-size="25.2" text-anchor="end" transform="translate(1715.81 1264.81) rotate(-45)">Oligomycin+S-Exo</text>
</g>
<g>
<rect x="161.3" y="1653.5" width="33" height="316.3" fill="#fff" stroke="#27327f" stroke-width="2.8"/>
<rect x="221.9" y="1821.4" width="33" height="148.4" fill="#fff" stroke="#8f1b30" stroke-width="2.8"/>
<rect x="282.8" y="1599.4" width="33" height="370.4" fill="#fff" stroke="#7577a9" stroke-width="2.8"/>
<rect x="344" y="1765.2" width="33" height="204.6" fill="#fff" stroke="#6e6f6c" stroke-width="2.8"/>
<path d="M177.8 1653.5V1604.2M168.8 1604.2H186.8" fill="none" stroke="#27327f" stroke-width="3" stroke-linecap="round"/>
<path d="M238.4 1821.4V1774.2M229.4 1774.2H247.4" fill="none" stroke="#8f1b30" stroke-width="3" stroke-linecap="round"/>
<path d="M299.3 1599.4V1577.6M290.3 1577.6H308.3" fill="none" stroke="#7577a9" stroke-width="3" stroke-linecap="round"/>
<path d="M360.5 1765.2V1737.4M351.5 1737.4H369.5" fill="none" stroke="#6e6f6c" stroke-width="3" stroke-linecap="round"/>
<circle cx="177.3" cy="1605.6" r="3" fill="none" stroke="#000" stroke-width="1.6"/>
<circle cx="177.3" cy="1650.4" r="3" fill="none" stroke="#000" stroke-width="1.6"/>
<circle cx="177.3" cy="1701.6" r="3" fill="none" stroke="#000" stroke-width="1.6"/>
<circle cx="238.2" cy="1781.8" r="3" fill="none" stroke="#000" stroke-width="1.6"/>
<circle cx="238.2" cy="1807.8" r="3" fill="none" stroke="#000" stroke-width="1.6"/>
<circle cx="238.2" cy="1870.2" r="3" fill="none" stroke="#000" stroke-width="1.6"/>
<circle cx="299.4" cy="1583.1" r="3" fill="none" stroke="#000" stroke-width="1.6"/>
<circle cx="299.4" cy="1590.2" r="3" fill="none" stroke="#000" stroke-width="1.6"/>
<circle cx="299.4" cy="1621" r="3" fill="none" stroke="#000" stroke-width="1.6"/>
<circle cx="359.8" cy="1735.1" r="3" fill="none" stroke="#000" stroke-width="1.6"/>
<circle cx="359.8" cy="1769.2" r="3" fill="none" stroke="#000" stroke-width="1.6"/>
<circle cx="359.8" cy="1787.2" r="3" fill="none" stroke="#000" stroke-width="1.6"/>
<line x1="134.6" y1="1566.2" x2="134.6" y2="1971.45" stroke="#000" stroke-width="3.3"/>
<line x1="121.4" y1="1969.8" x2="402.5" y2="1969.8" stroke="#000" stroke-width="3.3"/>
<line x1="121.1" y1="1869.3" x2="134.6" y2="1869.3" stroke="#000" stroke-width="3.2"/>
<line x1="121.1" y1="1768.8" x2="134.6" y2="1768.8" stroke="#000" stroke-width="3.2"/>
<line x1="121.1" y1="1668.3" x2="134.6" y2="1668.3" stroke="#000" stroke-width="3.2"/>
<line x1="121.1" y1="1567.8" x2="134.6" y2="1567.8" stroke="#000" stroke-width="3.2"/>
<text font-size="25" transform="translate(89.42 1977.81) scale(0.955 1)">10</text>
<text font-size="25" transform="translate(89.4 1877.43) scale(0.955 1)">12</text>
<text font-size="25" transform="translate(88.57 1776.8) scale(0.955 1)">14</text>
<text font-size="25" transform="translate(89.31 1676.31) scale(0.955 1)">16</text>
<text font-size="25" transform="translate(89.18 1575.81) scale(0.955 1)">18</text>
<path d="M176.6 1499.5V1481.2H299.4V1499.5" class="br" stroke-width="3.5"/>
<path d="M176.6 1558.5V1539.7H231.8V1558.5" class="br" stroke-width="3.5"/>
<path d="M244.1 1558.5V1539.7H299.4V1558.5" class="br" stroke-width="3.5"/>
<text font-size="22.77" transform="translate(226.07 1466.68) scale(0.950 1)">ns</text>
<text class="ast" font-size="26.46" transform="translate(190.04 1528.6) scale(1.085 1)" stroke-width="1.07" letter-spacing="0.42">**</text>
<text class="ast" font-size="26.46" transform="translate(250.04 1528.6) scale(1.085 1)" stroke-width="1.07" letter-spacing="0.42">***</text>
<text font-size="33.14" transform="translate(73.6 1875.55) rotate(-90) scale(0.907 1)">ATP (nmol/mg)</text>
<text font-size="27.97" transform="translate(54.24 2009.53) scale(0.939 1)">S-Exos</text>
<text font-size="27.54" transform="translate(74.17 2047.93) scale(0.971 1)">2-DG</text>
<text font-size="27.5" transform="translate(171.57 2006.68) scale(0.830 1)">–</text>
<text font-size="27.5" transform="translate(233.36 2008.44)">+</text>
<text font-size="27.5" transform="translate(294.16 2008.44)">+</text>
<text font-size="27.5" transform="translate(357.47 2006.68) scale(0.830 1)">–</text>
<text font-size="27.5" transform="translate(171.57 2046.28) scale(0.830 1)">–</text>
<text font-size="27.5" transform="translate(235.07 2046.28) scale(0.830 1)">–</text>
<text font-size="27.5" transform="translate(294.16 2048.04)">+</text>
<text font-size="27.5" transform="translate(355.76 2048.04)">+</text>
</g>
<g>
<rect x="591.8" y="1665.3" width="33" height="305.4" fill="#fff" stroke="#27327f" stroke-width="2.8"/>
<rect x="652.5" y="1619.4" width="33" height="351.3" fill="#fff" stroke="#8f1b30" stroke-width="2.8"/>
<rect x="713.6" y="1873.6" width="33" height="97.1" fill="#fff" stroke="#7577a9" stroke-width="2.8"/>
<rect x="774.2" y="1849.9" width="33" height="120.8" fill="#fff" stroke="#6e6f6c" stroke-width="2.8"/>
<path d="M608.3 1665.3V1650.5M599.3 1650.5H617.3" fill="none" stroke="#27327f" stroke-width="3" stroke-linecap="round"/>
<path d="M669 1619.4V1602.5M660 1602.5H678" fill="none" stroke="#8f1b30" stroke-width="3" stroke-linecap="round"/>
<path d="M730.1 1873.6V1855.1M721.1 1855.1H739.1" fill="none" stroke="#7577a9" stroke-width="3" stroke-linecap="round"/>
<path d="M790.7 1849.9V1845M781.7 1845H799.7" fill="none" stroke="#6e6f6c" stroke-width="3" stroke-linecap="round"/>
<circle cx="607.7" cy="1649.2" r="3.1" fill="none" stroke="#000" stroke-width="1.6"/>
<circle cx="607.7" cy="1668.7" r="3.1" fill="none" stroke="#000" stroke-width="1.6"/>
<circle cx="607.7" cy="1675.2" r="3.1" fill="none" stroke="#000" stroke-width="1.6"/>
<circle cx="662.2" cy="1606.4" r="3.1" fill="none" stroke="#000" stroke-width="1.6"/>
<circle cx="675.2" cy="1611.6" r="3.1" fill="none" stroke="#000" stroke-width="1.6"/>
<circle cx="668.7" cy="1636" r="3.1" fill="none" stroke="#000" stroke-width="1.6"/>
<circle cx="729.8" cy="1853.3" r="3.1" fill="none" stroke="#000" stroke-width="1.6"/>
<circle cx="729.8" cy="1875" r="3.1" fill="none" stroke="#000" stroke-width="1.6"/>
<circle cx="729.8" cy="1889.4" r="3.1" fill="none" stroke="#000" stroke-width="1.6"/>
<circle cx="776" cy="1851" r="3.1" fill="none" stroke="#000" stroke-width="1.6"/>
<circle cx="790.7" cy="1845" r="3.1" fill="none" stroke="#000" stroke-width="1.6"/>
<circle cx="805.4" cy="1848.4" r="3.1" fill="none" stroke="#000" stroke-width="1.6"/>
<line x1="564.8" y1="1566.5" x2="564.8" y2="1972.35" stroke="#000" stroke-width="3.3"/>
<line x1="551.6" y1="1970.7" x2="833.6" y2="1970.7" stroke="#000" stroke-width="3.3"/>
<line x1="551.4" y1="1890.18" x2="564.8" y2="1890.18" stroke="#000" stroke-width="3.2"/>
<line x1="551.4" y1="1809.66" x2="564.8" y2="1809.66" stroke="#000" stroke-width="3.2"/>
<line x1="551.4" y1="1729.14" x2="564.8" y2="1729.14" stroke="#000" stroke-width="3.2"/>
<line x1="551.4" y1="1648.62" x2="564.8" y2="1648.62" stroke="#000" stroke-width="3.2"/>
<line x1="551.4" y1="1568.1" x2="564.8" y2="1568.1" stroke="#000" stroke-width="3.2"/>
<text font-size="25.4" transform="translate(533.1 1978.84) scale(0.955 1)">0</text>
<text font-size="25.4" transform="translate(533.08 1898.45) scale(0.955 1)">2</text>
<text font-size="25.4" transform="translate(532.24 1817.8) scale(0.955 1)">4</text>
<text font-size="25.4" transform="translate(532.99 1737.28) scale(0.955 1)">6</text>
<text font-size="25.4" transform="translate(532.86 1656.76) scale(0.955 1)">8</text>
<text font-size="25.4" transform="translate(519.61 1576.24) scale(0.955 1)">10</text>
<path d="M607.7 1582.5V1563.6H662.7V1582.5" class="br" stroke-width="3.5"/>
<path d="M674.4 1582.5V1563.6H723.7V1582.5" class="br" stroke-width="3.5"/>
<path d="M735.4 1582.5V1563.6H791.2V1582.5" class="br" stroke-width="3.5"/>
<text class="ast" font-size="26.46" transform="translate(628.64 1552.5) scale(1.085 1)" stroke-width="1.07">*</text>
<text class="ast" font-size="26.46" transform="translate(670.04 1552.5) scale(1.085 1)" stroke-width="1.07" letter-spacing="0.42">****</text>
<text font-size="21.49" transform="translate(751.15 1549.59) scale(0.950 1)">ns</text>
<text font-size="34.16" transform="translate(505.5 1963.13) rotate(-90) scale(0.879 1)">Glucose consumption (mM)</text>
<text font-size="27.68" transform="translate(484.04 2010.53) scale(0.951 1)">S-Exos</text>
<text font-size="27.54" transform="translate(504.18 2048.73) scale(0.966 1)">2-DG</text>
<text font-size="27.5" transform="translate(602.27 2008.08) scale(0.830 1)">–</text>
<text font-size="27.5" transform="translate(663.56 2009.84)">+</text>
<text font-size="27.5" transform="translate(724.76 2009.84)">+</text>
<text font-size="27.5" transform="translate(788.37 2008.08) scale(0.830 1)">–</text>
<text font-size="27.5" transform="translate(602.27 2046.48) scale(0.830 1)">–</text>
<text font-size="27.5" transform="translate(665.27 2046.48) scale(0.830 1)">–</text>
<text font-size="27.5" transform="translate(724.76 2048.24)">+</text>
<text font-size="27.5" transform="translate(786.66 2048.24)">+</text>
</g>
<g>
<rect x="1079.25" y="1810.4" width="33.5" height="157.1" fill="#d4deee" stroke="#000" stroke-width="3"/>
<rect x="1139.95" y="1626.5" width="33.5" height="341" fill="#b4c3e0" stroke="#000" stroke-width="3"/>
<rect x="1200.85" y="1868" width="33.5" height="99.5" fill="#c5bdd5" stroke="#000" stroke-width="3"/>
<rect x="1261.85" y="1901.9" width="33.5" height="65.6" fill="#9c8bb5" stroke="#000" stroke-width="3"/>
<path d="M1096 1810.4V1807M1086.5 1807H1105.5" fill="none" stroke="#000" stroke-width="3" stroke-linecap="round"/>
<path d="M1156.7 1626.5V1611.2M1147.2 1611.2H1166.2" fill="none" stroke="#000" stroke-width="3" stroke-linecap="round"/>
<path d="M1217.6 1868V1864M1208.1 1864H1227.1" fill="none" stroke="#000" stroke-width="3" stroke-linecap="round"/>
<path d="M1278.6 1901.9V1891M1269.1 1891H1288.1" fill="none" stroke="#000" stroke-width="3" stroke-linecap="round"/>
<circle cx="1082.5" cy="1810.4" r="3.85" fill="none" stroke="#000" stroke-width="1.9"/>
<circle cx="1095.5" cy="1807.1" r="3.85" fill="none" stroke="#000" stroke-width="1.9"/>
<circle cx="1109" cy="1808.7" r="3.85" fill="none" stroke="#000" stroke-width="1.9"/>
<circle cx="1143.2" cy="1613.7" r="3.85" fill="none" stroke="#000" stroke-width="1.9"/>
<circle cx="1170" cy="1620.6" r="3.85" fill="none" stroke="#000" stroke-width="1.9"/>
<circle cx="1156.4" cy="1639.8" r="3.85" fill="none" stroke="#000" stroke-width="1.9"/>
<circle cx="1204.6" cy="1870.4" r="3.85" fill="none" stroke="#000" stroke-width="1.9"/>
<circle cx="1217.6" cy="1862.8" r="3.85" fill="none" stroke="#000" stroke-width="1.9"/>
<circle cx="1231.4" cy="1864" r="3.85" fill="none" stroke="#000" stroke-width="1.9"/>
<circle cx="1266.2" cy="1903" r="3.85" fill="none" stroke="#000" stroke-width="1.9"/>
<circle cx="1278.8" cy="1888.8" r="3.85" fill="none" stroke="#000" stroke-width="1.9"/>
<circle cx="1292.3" cy="1901.2" r="3.85" fill="none" stroke="#000" stroke-width="1.9"/>
<line x1="1052.7" y1="1562.6" x2="1052.7" y2="1969.1" stroke="#000" stroke-width="3.2"/>
<line x1="1039.4" y1="1967.5" x2="1320.5" y2="1967.5" stroke="#000" stroke-width="3.2"/>
<line x1="1039" y1="1886.84" x2="1052.7" y2="1886.84" stroke="#000" stroke-width="3.2"/>
<line x1="1039" y1="1806.18" x2="1052.7" y2="1806.18" stroke="#000" stroke-width="3.2"/>
<line x1="1039" y1="1725.52" x2="1052.7" y2="1725.52" stroke="#000" stroke-width="3.2"/>
<line x1="1039" y1="1644.86" x2="1052.7" y2="1644.86" stroke="#000" stroke-width="3.2"/>
<line x1="1039" y1="1564.2" x2="1052.7" y2="1564.2" stroke="#000" stroke-width="3.2"/>
<text font-size="25.7" transform="translate(1020.66 1975.75) scale(0.955 1)">0</text>
<text font-size="25.7" transform="translate(993.36 1895.09) scale(0.955 1)">200</text>
<text font-size="25.7" transform="translate(993.36 1814.43) scale(0.955 1)">400</text>
<text font-size="25.7" transform="translate(993.36 1733.77) scale(0.955 1)">600</text>
<text font-size="25.7" transform="translate(993.36 1653.11) scale(0.955 1)">800</text>
<text font-size="25.7" transform="translate(979.71 1572.45) scale(0.955 1)">1000</text>
<path d="M1095.5 1533V1514.4H1279V1533" class="br" stroke-width="3.8"/>
<path d="M1095.5 1591.5V1573.2H1156.9V1591.5" class="br" stroke-width="3.8"/>
<path d="M1217.2 1591.5V1573.2H1278.6V1591.5" class="br" stroke-width="3.8"/>
<text class="ast" font-size="26.46" transform="translate(1158.14 1503.3) scale(1.085 1)" stroke-width="1.07" letter-spacing="0.42">****</text>
<text class="ast" font-size="26.46" transform="translate(1097.04 1562.1) scale(1.085 1)" stroke-width="1.07" letter-spacing="0.42">****</text>
<text class="ast" font-size="26.46" transform="translate(1233.64 1562.1) scale(1.085 1)" stroke-width="1.07" letter-spacing="0.42">**</text>
<text font-size="32.41" transform="translate(963.6 1958.94) rotate(-90) scale(0.941 1)" xml:space="preserve">MMP-1  expression (ng/ml)</text>
<text font-size="27.68" transform="translate(971.55 2011.93) scale(0.936 1)">S-Exos</text>
<text font-size="27.54" transform="translate(991.49 2050.93) scale(0.958 1)">2-DG</text>
<text font-size="27.5" transform="translate(1089.17 2009.38) scale(0.830 1)">–</text>
<text font-size="27.5" transform="translate(1150.36 2011.14)">+</text>
<text font-size="27.5" transform="translate(1211.26 2011.14)">+</text>
<text font-size="27.5" transform="translate(1274.77 2009.38) scale(0.830 1)">–</text>
<text font-size="27.5" transform="translate(1089.17 2048.38) scale(0.830 1)">–</text>
<text font-size="27.5" transform="translate(1152.07 2048.38) scale(0.830 1)">–</text>
<text font-size="27.5" transform="translate(1211.26 2050.14)">+</text>
<text font-size="27.5" transform="translate(1273.06 2050.14)">+</text>
</g>
<g>
<rect x="1523.75" y="1860.7" width="33.5" height="104.8" fill="#d4deee" stroke="#000" stroke-width="3"/>
<rect x="1583.85" y="1638" width="33.5" height="327.5" fill="#b4c3e0" stroke="#000" stroke-width="3"/>
<rect x="1644.75" y="1889.9" width="33.5" height="75.6" fill="#c5bdd5" stroke="#000" stroke-width="3"/>
<rect x="1705.25" y="1905.3" width="33.5" height="60.2" fill="#9c8bb5" stroke="#000" stroke-width="3"/>
<path d="M1540.5 1860.7V1857M1531 1857H1550" fill="none" stroke="#000" stroke-width="3" stroke-linecap="round"/>
<path d="M1600.6 1638V1627.2M1591.1 1627.2H1610.1" fill="none" stroke="#000" stroke-width="3" stroke-linecap="round"/>
<path d="M1661.5 1889.9V1887M1652 1887H1671" fill="none" stroke="#000" stroke-width="3" stroke-linecap="round"/>
<path d="M1722 1905.3V1902.5M1712.5 1902.5H1731.5" fill="none" stroke="#000" stroke-width="3" stroke-linecap="round"/>
<circle cx="1527.2" cy="1863.1" r="3.85" fill="none" stroke="#000" stroke-width="1.9"/>
<circle cx="1539.9" cy="1855.8" r="3.85" fill="none" stroke="#000" stroke-width="1.9"/>
<circle cx="1554" cy="1858.2" r="3.85" fill="none" stroke="#000" stroke-width="1.9"/>
<circle cx="1600.4" cy="1624.8" r="3.85" fill="none" stroke="#000" stroke-width="1.9"/>
<circle cx="1587.4" cy="1645" r="3.85" fill="none" stroke="#000" stroke-width="1.9"/>
<circle cx="1613.8" cy="1638.9" r="3.85" fill="none" stroke="#000" stroke-width="1.9"/>
<circle cx="1648.4" cy="1891.6" r="3.85" fill="none" stroke="#000" stroke-width="1.9"/>
<circle cx="1661.8" cy="1885.8" r="3.85" fill="none" stroke="#000" stroke-width="1.9"/>
<circle cx="1674.7" cy="1888.7" r="3.85" fill="none" stroke="#000" stroke-width="1.9"/>
<circle cx="1709.8" cy="1907.7" r="3.85" fill="none" stroke="#000" stroke-width="1.9"/>
<circle cx="1722.3" cy="1901.4" r="3.85" fill="none" stroke="#000" stroke-width="1.9"/>
<circle cx="1735.4" cy="1903.8" r="3.85" fill="none" stroke="#000" stroke-width="1.9"/>
<line x1="1497.5" y1="1563.52" x2="1497.5" y2="1967.1" stroke="#000" stroke-width="3.2"/>
<line x1="1483.8" y1="1965.5" x2="1764.7" y2="1965.5" stroke="#000" stroke-width="3.2"/>
<line x1="1483.5" y1="1832.04" x2="1497.5" y2="1832.04" stroke="#000" stroke-width="3.2"/>
<line x1="1483.5" y1="1698.58" x2="1497.5" y2="1698.58" stroke="#000" stroke-width="3.2"/>
<line x1="1483.5" y1="1565.12" x2="1497.5" y2="1565.12" stroke="#000" stroke-width="3.2"/>
<text font-size="25" transform="translate(1465.5 1973.51) scale(0.955 1)">0</text>
<text font-size="25" transform="translate(1438.94 1840.05) scale(0.955 1)">200</text>
<text font-size="25" transform="translate(1438.94 1706.59) scale(0.955 1)">400</text>
<text font-size="25" transform="translate(1438.94 1573.13) scale(0.955 1)">600</text>
<path d="M1539.9 1548.5V1530.2H1722.3V1548.5" class="br" stroke-width="3.8"/>
<path d="M1539.9 1606.8V1588.2H1600.8V1606.8" class="br" stroke-width="3.8"/>
<path d="M1661.3 1606.8V1588.2H1722.3V1606.8" class="br" stroke-width="3.8"/>
<text class="ast" font-size="26.46" transform="translate(1602.04 1519.1) scale(1.085 1)" stroke-width="1.07" letter-spacing="0.42">****</text>
<text class="ast" font-size="26.46" transform="translate(1541.04 1577.1) scale(1.085 1)" stroke-width="1.07" letter-spacing="0.42">****</text>
<text class="ast" font-size="26.46" transform="translate(1684.84 1577.1) scale(1.085 1)" stroke-width="1.07">*</text>
<text font-size="32.85" transform="translate(1422.8 1957.93) rotate(-90) scale(0.924 1)" xml:space="preserve">MMP-3  expression (ng/ml)</text>
<text font-size="27.68" transform="translate(1415.25 2008.93) scale(0.937 1)">S-Exos</text>
<text font-size="27.54" transform="translate(1435.38 2046.73) scale(0.965 1)">2-DG</text>
<text font-size="27.5" transform="translate(1533.07 2004.58) scale(0.830 1)">–</text>
<text font-size="27.5" transform="translate(1593.56 2006.34)">+</text>
<text font-size="27.5" transform="translate(1654.46 2006.34)">+</text>
<text font-size="27.5" transform="translate(1717.67 2004.58) scale(0.830 1)">–</text>
<text font-size="27.5" transform="translate(1533.07 2043.58) scale(0.830 1)">–</text>
<text font-size="27.5" transform="translate(1595.27 2043.58) scale(0.830 1)">–</text>
<text font-size="27.5" transform="translate(1654.46 2045.34)">+</text>
<text font-size="27.5" transform="translate(1715.96 2045.34)">+</text>
</g>
<text font-size="37.5" transform="translate(4.18 56.9) scale(0.980 1)">A</text>
<text font-size="37.5" transform="translate(604.84 56.8) scale(0.980 1)">B</text>
<text font-size="37.5" transform="translate(1205.54 57.1) scale(0.980 1)">D</text>
<text font-size="37.5" transform="translate(3.19 798.2) scale(0.980 1)">C</text>
<text font-size="37.5" transform="translate(2.24 1474) scale(0.980 1)">E</text>
<text font-size="37.5" transform="translate(419.04 1473.7) scale(0.980 1)">F</text>
<text font-size="37.5" transform="translate(893.39 1473.1) scale(0.980 1)">G</text>
</svg>
</body></html>
